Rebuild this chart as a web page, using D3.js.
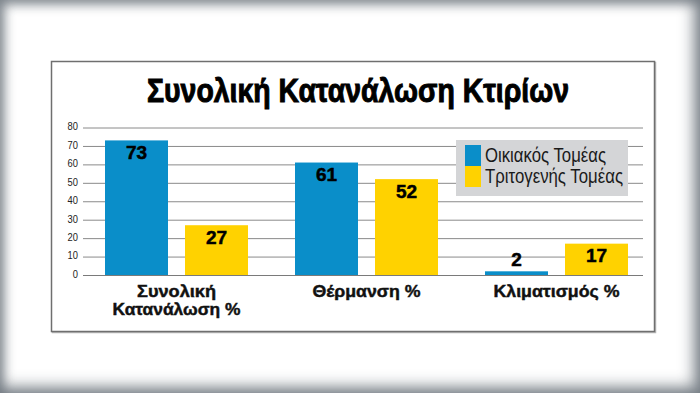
<!DOCTYPE html>
<html>
<head>
<meta charset="utf-8">
<script src="https://cdn.jsdelivr.net/npm/d3@7"></script>
<style>
  html, body { margin: 0; padding: 0; background: #fff; }
  #wrap {
    position: relative; width: 700px; height: 393px; overflow: hidden;
    background: #fff;
    box-shadow: inset -4px -4px 15px 2px rgba(105,113,121,0.85), inset 3px 3px 11px 1px rgba(120,128,136,0.75);
  }
  svg { position: absolute; left: 0; top: 0; }
</style>
</head>
<body>
<div id="wrap"></div>
<script>
const title = "Συνολική Κατανάλωση Κτιρίων";
const categories = [["Συνολική", "Κατανάλωση %"], ["Θέρμανση %"], ["Κλιματισμός %"]];
const seriesNames = ["Οικιακός Τομέας", "Τριτογενής Τομέας"];
const residential = [73, 61, 2];
const tertiary = [27, 52, 17];
const yTicks = [0, 10, 20, 30, 40, 50, 60, 70, 80];
const colors = ["#0a8ec9", "#ffd200"];

// layout: target rendered widths of condensed text (the original uses a condensed face)
const textWidths = {
  "Συνολική Κατανάλωση Κτιρίων": 422,
  "Συνολική": 79, "Κατανάλωση %": 128, "Θέρμανση %": 108, "Κλιματισμός %": 126,
  "Οικιακός Τομέας": 121, "Τριτογενής Τομέας": 138
};

const W = 700, H = 393;
const svg = d3.select("#wrap").append("svg").attr("width", W).attr("height", H);
const FONT = '"Liberation Sans", Arial, "DejaVu Sans", sans-serif';
function fit(sel) {
  sel.each(function(d) {
    const t = d3.select(this).text();
    if (textWidths[t]) d3.select(this).attr("textLength", textWidths[t]).attr("lengthAdjust", "spacingAndGlyphs");
  });
  return sel;
}

// frame
svg.append("rect").attr("x", 52.5).attr("y", 62.5).attr("width", 603).attr("height", 270)
  .attr("fill", "none").attr("stroke", "#b8b8b8").attr("stroke-width", 1.5);
svg.append("rect").attr("x", 51.5).attr("y", 61.5).attr("width", 603).attr("height", 270)
  .attr("fill", "#fff").attr("stroke", "#6f6f6f").attr("stroke-width", 1.5);

// title
svg.append("text").attr("x", 358).attr("y", 102).attr("text-anchor", "middle")
  .attr("font-family", FONT).attr("font-weight", "bold").attr("font-size", 33.5)
  .attr("fill", "#000").attr("stroke", "#000").attr("stroke-width", 1)
  .text(title).call(fit);

const keys = categories.map((c, i) => "c" + i);
const y = d3.scaleLinear().domain([0, 80]).range([275, 127.5]);
const x0 = d3.scaleBand().domain(keys).range([81.5, 651.5])
  .paddingInner(47 / 190).paddingOuter(47 / 380);
const x1 = d3.scaleBand().domain(seriesNames).range([0, x0.bandwidth()])
  .paddingInner(17 / 80).paddingOuter(0);

// grid + y axis
const gx0 = 83, gx1 = 643;
const yAxis = d3.axisLeft(y).tickValues(yTicks).tickSize(-(gx1 - gx0)).tickPadding(5);
const ga = svg.append("g").attr("transform", `translate(${gx0},0)`).call(yAxis);
ga.select(".domain").remove();
ga.selectAll(".tick line").attr("stroke", "#8a8a8a").attr("stroke-width", 1);
ga.selectAll(".tick text").attr("font-family", FONT).attr("font-size", 11)
  .attr("fill", "#222").attr("dy", "0.22em")
  .each(function() { d3.select(this).attr("textLength", this.getComputedTextLength() * 0.85).attr("lengthAdjust", "spacingAndGlyphs"); });

// bars
const data = keys.map((k, i) => ({ key: k, values: [residential[i], tertiary[i]] }));
const groups = svg.append("g").selectAll("g").data(data).join("g")
  .attr("transform", d => `translate(${x0(d.key)},0)`);
groups.selectAll("rect").data(d => d.values.map((v, j) => ({ s: seriesNames[j], v, j })))
  .join("rect")
  .attr("x", d => x1(d.s)).attr("width", x1.bandwidth())
  .attr("y", d => y(d.v)).attr("height", d => y(0) - y(d.v))
  .attr("fill", d => colors[d.j]);
groups.selectAll("text.val").data(d => d.values.map((v, j) => ({ s: seriesNames[j], v, j })))
  .join("text").attr("class", "val")
  .attr("x", d => x1(d.s) + x1.bandwidth() / 2)
  .attr("y", d => (y(0) - y(d.v) < 22) ? y(d.v) - 5 : y(d.v) + 18.5)
  .attr("text-anchor", "middle").attr("font-family", FONT).attr("font-weight", "bold")
  .attr("font-size", 19).attr("fill", "#000").attr("stroke", "#000").attr("stroke-width", 0.5)
  .text(d => d.v);

// baseline
svg.append("line").attr("x1", gx0).attr("x2", gx1).attr("y1", y(0) + 0.5).attr("y2", y(0) + 0.5)
  .attr("stroke", "#7a7a7a").attr("stroke-width", 1);

// x labels
const xlab = [];
categories.forEach((c, i) => c.forEach((t, li) => xlab.push({ t, li, k: keys[i] })));
svg.append("g").selectAll("text").data(xlab).join("text")
  .attr("x", d => x0(d.k) + x0.bandwidth() / 2).attr("y", d => 296.7 + d.li * 18.3)
  .attr("text-anchor", "middle").attr("font-family", FONT).attr("font-weight", "bold")
  .attr("font-size", 16.5).attr("fill", "#111").attr("stroke", "#111").attr("stroke-width", 0.45)
  .text(d => d.t).call(fit);

// legend
const lg = svg.append("g");
lg.append("rect").attr("x", 456).attr("y", 140).attr("width", 172).attr("height", 56).attr("fill", "#d4d5d7");
seriesNames.forEach((s, i) => {
  lg.append("rect").attr("x", 465).attr("y", 145 + i * 21).attr("width", 16).attr("height", 21)
    .attr("fill", colors[i]);
  lg.append("text").attr("x", 485).attr("y", 161.7 + i * 21.6)
    .attr("font-family", FONT).attr("font-size", 20.5).attr("fill", "#1a1a1a").text(s).call(fit);
});
</script>
</body>
</html>
